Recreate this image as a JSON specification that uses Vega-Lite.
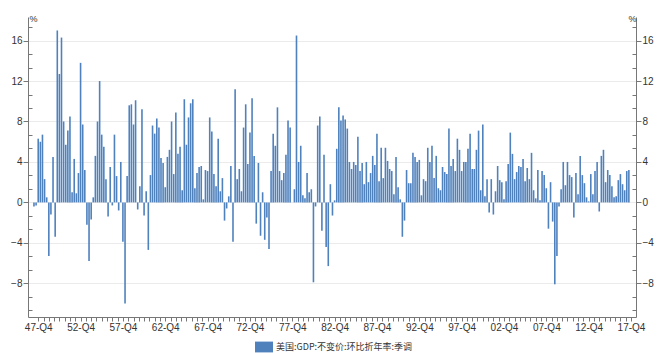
{
"$schema": "https://vega.github.io/schema/vega-lite/v6.json",
"width": 608, "height": 300,
"autosize": "none",
"padding": {"left": 28, "top": 17, "right": 23, "bottom": 36},
"background": "white",
"config": {"view": {"stroke": null}},
"data": {"values": [
{"d":"1947-04-01","v":-0.4},{"d":"1947-07-01","v":-0.3},{"d":"1947-10-01","v":6.3},
{"d":"1948-01-01","v":6.0},{"d":"1948-04-01","v":6.7},{"d":"1948-07-01","v":2.3},{"d":"1948-10-01","v":0.5},
{"d":"1949-01-01","v":-5.3},{"d":"1949-04-01","v":-1.2},{"d":"1949-07-01","v":4.5},{"d":"1949-10-01","v":-3.4},
{"d":"1950-01-01","v":17.0},{"d":"1950-04-01","v":12.7},{"d":"1950-07-01","v":16.3},{"d":"1950-10-01","v":8.0},
{"d":"1951-01-01","v":5.7},{"d":"1951-04-01","v":7.1},{"d":"1951-07-01","v":8.5},{"d":"1951-10-01","v":1.0},
{"d":"1952-01-01","v":4.3},{"d":"1952-04-01","v":0.9},{"d":"1952-07-01","v":2.9},{"d":"1952-10-01","v":13.8},
{"d":"1953-01-01","v":7.7},{"d":"1953-04-01","v":3.2},{"d":"1953-07-01","v":-2.2},{"d":"1953-10-01","v":-5.8},
{"d":"1954-01-01","v":-1.7},{"d":"1954-04-01","v":0.5},{"d":"1954-07-01","v":4.6},{"d":"1954-10-01","v":8.0},
{"d":"1955-01-01","v":12.0},{"d":"1955-04-01","v":6.7},{"d":"1955-07-01","v":5.5},{"d":"1955-10-01","v":2.3},
{"d":"1956-01-01","v":-1.4},{"d":"1956-04-01","v":3.5},{"d":"1956-07-01","v":-0.3},{"d":"1956-10-01","v":6.7},
{"d":"1957-01-01","v":2.6},{"d":"1957-04-01","v":-0.8},{"d":"1957-07-01","v":4.0},{"d":"1957-10-01","v":-3.9},
{"d":"1958-01-01","v":-10.0},{"d":"1958-04-01","v":2.6},{"d":"1958-07-01","v":9.6},{"d":"1958-10-01","v":9.7},
{"d":"1959-01-01","v":7.7},{"d":"1959-04-01","v":10.1},{"d":"1959-07-01","v":-0.7},{"d":"1959-10-01","v":1.6},
{"d":"1960-01-01","v":9.2},{"d":"1960-04-01","v":-1.3},{"d":"1960-07-01","v":1.1},{"d":"1960-10-01","v":-4.7},
{"d":"1961-01-01","v":2.7},{"d":"1961-04-01","v":7.6},{"d":"1961-07-01","v":6.8},{"d":"1961-10-01","v":8.3},
{"d":"1962-01-01","v":7.4},{"d":"1962-04-01","v":4.4},{"d":"1962-07-01","v":3.9},{"d":"1962-10-01","v":1.5},
{"d":"1963-01-01","v":4.5},{"d":"1963-04-01","v":5.2},{"d":"1963-07-01","v":8.0},{"d":"1963-10-01","v":2.8},
{"d":"1964-01-01","v":8.9},{"d":"1964-04-01","v":4.8},{"d":"1964-07-01","v":5.5},{"d":"1964-10-01","v":1.2},
{"d":"1965-01-01","v":10.2},{"d":"1965-04-01","v":5.7},{"d":"1965-07-01","v":8.4},{"d":"1965-10-01","v":9.8},
{"d":"1966-01-01","v":10.2},{"d":"1966-04-01","v":1.4},{"d":"1966-07-01","v":2.9},{"d":"1966-10-01","v":3.5},
{"d":"1967-01-01","v":3.6},{"d":"1967-04-01","v":0.3},{"d":"1967-07-01","v":3.2},{"d":"1967-10-01","v":3.1},
{"d":"1968-01-01","v":8.4},{"d":"1968-04-01","v":7.0},{"d":"1968-07-01","v":2.8},{"d":"1968-10-01","v":1.6},
{"d":"1969-01-01","v":6.3},{"d":"1969-04-01","v":1.1},{"d":"1969-07-01","v":2.4},{"d":"1969-10-01","v":-1.8},
{"d":"1970-01-01","v":-0.6},{"d":"1970-04-01","v":0.6},{"d":"1970-07-01","v":3.6},{"d":"1970-10-01","v":-3.9},
{"d":"1971-01-01","v":11.2},{"d":"1971-04-01","v":2.3},{"d":"1971-07-01","v":3.3},{"d":"1971-10-01","v":1.1},
{"d":"1972-01-01","v":7.4},{"d":"1972-04-01","v":9.7},{"d":"1972-07-01","v":3.8},{"d":"1972-10-01","v":6.9},
{"d":"1973-01-01","v":10.3},{"d":"1973-04-01","v":4.6},{"d":"1973-07-01","v":-2.1},{"d":"1973-10-01","v":3.9},
{"d":"1974-01-01","v":-3.3},{"d":"1974-04-01","v":1.0},{"d":"1974-07-01","v":-3.7},{"d":"1974-10-01","v":-1.5},
{"d":"1975-01-01","v":-4.6},{"d":"1975-04-01","v":3.1},{"d":"1975-07-01","v":6.8},{"d":"1975-10-01","v":5.6},
{"d":"1976-01-01","v":9.4},{"d":"1976-04-01","v":3.1},{"d":"1976-07-01","v":2.2},{"d":"1976-10-01","v":2.9},
{"d":"1977-01-01","v":4.7},{"d":"1977-04-01","v":8.1},{"d":"1977-07-01","v":7.4},{"d":"1977-10-01","v":0.0},
{"d":"1978-01-01","v":1.3},{"d":"1978-04-01","v":16.5},{"d":"1978-07-01","v":4.0},{"d":"1978-10-01","v":5.6},
{"d":"1979-01-01","v":0.7},{"d":"1979-04-01","v":0.4},{"d":"1979-07-01","v":2.9},{"d":"1979-10-01","v":1.0},
{"d":"1980-01-01","v":1.3},{"d":"1980-04-01","v":-7.9},{"d":"1980-07-01","v":-0.4},{"d":"1980-10-01","v":7.6},
{"d":"1981-01-01","v":8.5},{"d":"1981-04-01","v":-2.8},{"d":"1981-07-01","v":4.7},{"d":"1981-10-01","v":-4.4},
{"d":"1982-01-01","v":-6.3},{"d":"1982-04-01","v":1.8},{"d":"1982-07-01","v":-1.3},{"d":"1982-10-01","v":0.2},
{"d":"1983-01-01","v":5.3},{"d":"1983-04-01","v":9.4},{"d":"1983-07-01","v":8.1},{"d":"1983-10-01","v":8.6},
{"d":"1984-01-01","v":8.2},{"d":"1984-04-01","v":7.3},{"d":"1984-07-01","v":4.0},{"d":"1984-10-01","v":3.3},
{"d":"1985-01-01","v":4.0},{"d":"1985-04-01","v":3.7},{"d":"1985-07-01","v":6.5},{"d":"1985-10-01","v":3.1},
{"d":"1986-01-01","v":3.9},{"d":"1986-04-01","v":1.8},{"d":"1986-07-01","v":4.0},{"d":"1986-10-01","v":2.0},
{"d":"1987-01-01","v":2.9},{"d":"1987-04-01","v":4.6},{"d":"1987-07-01","v":3.7},{"d":"1987-10-01","v":6.8},
{"d":"1988-01-01","v":2.1},{"d":"1988-04-01","v":5.4},{"d":"1988-07-01","v":2.4},{"d":"1988-10-01","v":5.4},
{"d":"1989-01-01","v":4.1},{"d":"1989-04-01","v":3.3},{"d":"1989-07-01","v":3.1},{"d":"1989-10-01","v":0.8},
{"d":"1990-01-01","v":4.5},{"d":"1990-04-01","v":1.5},{"d":"1990-07-01","v":0.3},{"d":"1990-10-01","v":-3.4},
{"d":"1991-01-01","v":-1.8},{"d":"1991-04-01","v":3.2},{"d":"1991-07-01","v":1.9},{"d":"1991-10-01","v":1.9},
{"d":"1992-01-01","v":4.9},{"d":"1992-04-01","v":4.5},{"d":"1992-07-01","v":4.0},{"d":"1992-10-01","v":4.2},
{"d":"1993-01-01","v":0.7},{"d":"1993-04-01","v":2.3},{"d":"1993-07-01","v":2.1},{"d":"1993-10-01","v":5.4},
{"d":"1994-01-01","v":4.0},{"d":"1994-04-01","v":5.6},{"d":"1994-07-01","v":2.4},{"d":"1994-10-01","v":4.6},
{"d":"1995-01-01","v":1.4},{"d":"1995-04-01","v":1.2},{"d":"1995-07-01","v":3.5},{"d":"1995-10-01","v":3.0},
{"d":"1996-01-01","v":2.8},{"d":"1996-04-01","v":7.3},{"d":"1996-07-01","v":3.6},{"d":"1996-10-01","v":4.3},
{"d":"1997-01-01","v":3.1},{"d":"1997-04-01","v":6.3},{"d":"1997-07-01","v":5.2},{"d":"1997-10-01","v":3.1},
{"d":"1998-01-01","v":4.0},{"d":"1998-04-01","v":4.0},{"d":"1998-07-01","v":5.3},{"d":"1998-10-01","v":6.8},
{"d":"1999-01-01","v":3.3},{"d":"1999-04-01","v":3.3},{"d":"1999-07-01","v":5.2},{"d":"1999-10-01","v":7.1},
{"d":"2000-01-01","v":1.2},{"d":"2000-04-01","v":7.7},{"d":"2000-07-01","v":0.6},{"d":"2000-10-01","v":2.3},
{"d":"2001-01-01","v":-1.0},{"d":"2001-04-01","v":2.3},{"d":"2001-07-01","v":-1.2},{"d":"2001-10-01","v":1.1},
{"d":"2002-01-01","v":3.6},{"d":"2002-04-01","v":2.2},{"d":"2002-07-01","v":2.0},{"d":"2002-10-01","v":0.3},
{"d":"2003-01-01","v":2.1},{"d":"2003-04-01","v":3.8},{"d":"2003-07-01","v":6.9},{"d":"2003-10-01","v":4.8},
{"d":"2004-01-01","v":2.3},{"d":"2004-04-01","v":3.0},{"d":"2004-07-01","v":3.6},{"d":"2004-10-01","v":3.5},
{"d":"2005-01-01","v":4.3},{"d":"2005-04-01","v":2.1},{"d":"2005-07-01","v":3.4},{"d":"2005-10-01","v":2.3},
{"d":"2006-01-01","v":4.9},{"d":"2006-04-01","v":1.2},{"d":"2006-07-01","v":0.4},{"d":"2006-10-01","v":3.2},
{"d":"2007-01-01","v":0.2},{"d":"2007-04-01","v":3.1},{"d":"2007-07-01","v":2.7},{"d":"2007-10-01","v":1.4},
{"d":"2008-01-01","v":-2.6},{"d":"2008-04-01","v":2.0},{"d":"2008-07-01","v":-1.9},{"d":"2008-10-01","v":-8.1},
{"d":"2009-01-01","v":-5.3},{"d":"2009-04-01","v":-0.4},{"d":"2009-07-01","v":1.3},{"d":"2009-10-01","v":4.0},
{"d":"2010-01-01","v":1.7},{"d":"2010-04-01","v":4.0},{"d":"2010-07-01","v":2.7},{"d":"2010-10-01","v":2.5},
{"d":"2011-01-01","v":-1.5},{"d":"2011-04-01","v":2.9},{"d":"2011-07-01","v":0.8},{"d":"2011-10-01","v":4.6},
{"d":"2012-01-01","v":2.7},{"d":"2012-04-01","v":1.9},{"d":"2012-07-01","v":0.5},{"d":"2012-10-01","v":0.1},
{"d":"2013-01-01","v":2.8},{"d":"2013-04-01","v":0.8},{"d":"2013-07-01","v":3.1},{"d":"2013-10-01","v":4.0},
{"d":"2014-01-01","v":-0.9},{"d":"2014-04-01","v":4.6},{"d":"2014-07-01","v":5.2},{"d":"2014-10-01","v":2.0},
{"d":"2015-01-01","v":3.2},{"d":"2015-04-01","v":2.7},{"d":"2015-07-01","v":1.6},{"d":"2015-10-01","v":0.5},
{"d":"2016-01-01","v":0.6},{"d":"2016-04-01","v":2.2},{"d":"2016-07-01","v":2.8},{"d":"2016-10-01","v":1.8},
{"d":"2017-01-01","v":1.2},{"d":"2017-04-01","v":3.1},{"d":"2017-07-01","v":3.2}
]},
"layer": [
{
"mark": {"type": "bar", "size": 1.6},
"encoding": {
"x": {"field": "d", "type": "temporal",
 "scale": {"type": "utc", "domain": [{"year":1947,"month":2,"date":18,"utc":true},{"year":2017,"month":10,"date":1,"utc":true}]},
 "axis": {"title": null, "grid": false, "format": "%y-Q%q",
  "labelExpr": "utcmonth(datum.value) == 9 && utcdate(datum.value) == 1 ? datum.label : ''",
  "labelOverlap": false, "labelFlush": false, "labelBound": false,
  "labelFont": "Liberation Sans", "labelFontSize": 10, "labelColor": "#333333", "labelPadding": 1,
  "tickSize": 4, "tickColor": "#777777", "domainColor": "#777777",
  "values": [
{"year":1947,"month":10,"date":1,"utc":true},{"year":1948,"month":5,"date":16,"utc":true},{"year":1949,"month":1,"date":1,"utc":true},{"year":1949,"month":8,"date":16,"utc":true},{"year":1950,"month":4,"date":1,"utc":true},{"year":1950,"month":11,"date":16,"utc":true},{"year":1951,"month":7,"date":1,"utc":true},{"year":1952,"month":2,"date":16,"utc":true},
{"year":1952,"month":10,"date":1,"utc":true},{"year":1953,"month":5,"date":16,"utc":true},{"year":1954,"month":1,"date":1,"utc":true},{"year":1954,"month":8,"date":16,"utc":true},{"year":1955,"month":4,"date":1,"utc":true},{"year":1955,"month":11,"date":16,"utc":true},{"year":1956,"month":7,"date":1,"utc":true},{"year":1957,"month":2,"date":16,"utc":true},
{"year":1957,"month":10,"date":1,"utc":true},{"year":1958,"month":5,"date":16,"utc":true},{"year":1959,"month":1,"date":1,"utc":true},{"year":1959,"month":8,"date":16,"utc":true},{"year":1960,"month":4,"date":1,"utc":true},{"year":1960,"month":11,"date":16,"utc":true},{"year":1961,"month":7,"date":1,"utc":true},{"year":1962,"month":2,"date":16,"utc":true},
{"year":1962,"month":10,"date":1,"utc":true},{"year":1963,"month":5,"date":16,"utc":true},{"year":1964,"month":1,"date":1,"utc":true},{"year":1964,"month":8,"date":16,"utc":true},{"year":1965,"month":4,"date":1,"utc":true},{"year":1965,"month":11,"date":16,"utc":true},{"year":1966,"month":7,"date":1,"utc":true},{"year":1967,"month":2,"date":16,"utc":true},
{"year":1967,"month":10,"date":1,"utc":true},{"year":1968,"month":5,"date":16,"utc":true},{"year":1969,"month":1,"date":1,"utc":true},{"year":1969,"month":8,"date":16,"utc":true},{"year":1970,"month":4,"date":1,"utc":true},{"year":1970,"month":11,"date":16,"utc":true},{"year":1971,"month":7,"date":1,"utc":true},{"year":1972,"month":2,"date":16,"utc":true},
{"year":1972,"month":10,"date":1,"utc":true},{"year":1973,"month":5,"date":16,"utc":true},{"year":1974,"month":1,"date":1,"utc":true},{"year":1974,"month":8,"date":16,"utc":true},{"year":1975,"month":4,"date":1,"utc":true},{"year":1975,"month":11,"date":16,"utc":true},{"year":1976,"month":7,"date":1,"utc":true},{"year":1977,"month":2,"date":16,"utc":true},
{"year":1977,"month":10,"date":1,"utc":true},{"year":1978,"month":5,"date":16,"utc":true},{"year":1979,"month":1,"date":1,"utc":true},{"year":1979,"month":8,"date":16,"utc":true},{"year":1980,"month":4,"date":1,"utc":true},{"year":1980,"month":11,"date":16,"utc":true},{"year":1981,"month":7,"date":1,"utc":true},{"year":1982,"month":2,"date":16,"utc":true},
{"year":1982,"month":10,"date":1,"utc":true},{"year":1983,"month":5,"date":16,"utc":true},{"year":1984,"month":1,"date":1,"utc":true},{"year":1984,"month":8,"date":16,"utc":true},{"year":1985,"month":4,"date":1,"utc":true},{"year":1985,"month":11,"date":16,"utc":true},{"year":1986,"month":7,"date":1,"utc":true},{"year":1987,"month":2,"date":16,"utc":true},
{"year":1987,"month":10,"date":1,"utc":true},{"year":1988,"month":5,"date":16,"utc":true},{"year":1989,"month":1,"date":1,"utc":true},{"year":1989,"month":8,"date":16,"utc":true},{"year":1990,"month":4,"date":1,"utc":true},{"year":1990,"month":11,"date":16,"utc":true},{"year":1991,"month":7,"date":1,"utc":true},{"year":1992,"month":2,"date":16,"utc":true},
{"year":1992,"month":10,"date":1,"utc":true},{"year":1993,"month":5,"date":16,"utc":true},{"year":1994,"month":1,"date":1,"utc":true},{"year":1994,"month":8,"date":16,"utc":true},{"year":1995,"month":4,"date":1,"utc":true},{"year":1995,"month":11,"date":16,"utc":true},{"year":1996,"month":7,"date":1,"utc":true},{"year":1997,"month":2,"date":16,"utc":true},
{"year":1997,"month":10,"date":1,"utc":true},{"year":1998,"month":5,"date":16,"utc":true},{"year":1999,"month":1,"date":1,"utc":true},{"year":1999,"month":8,"date":16,"utc":true},{"year":2000,"month":4,"date":1,"utc":true},{"year":2000,"month":11,"date":16,"utc":true},{"year":2001,"month":7,"date":1,"utc":true},{"year":2002,"month":2,"date":16,"utc":true},
{"year":2002,"month":10,"date":1,"utc":true},{"year":2003,"month":5,"date":16,"utc":true},{"year":2004,"month":1,"date":1,"utc":true},{"year":2004,"month":8,"date":16,"utc":true},{"year":2005,"month":4,"date":1,"utc":true},{"year":2005,"month":11,"date":16,"utc":true},{"year":2006,"month":7,"date":1,"utc":true},{"year":2007,"month":2,"date":16,"utc":true},
{"year":2007,"month":10,"date":1,"utc":true},{"year":2008,"month":5,"date":16,"utc":true},{"year":2009,"month":1,"date":1,"utc":true},{"year":2009,"month":8,"date":16,"utc":true},{"year":2010,"month":4,"date":1,"utc":true},{"year":2010,"month":11,"date":16,"utc":true},{"year":2011,"month":7,"date":1,"utc":true},{"year":2012,"month":2,"date":16,"utc":true},
{"year":2012,"month":10,"date":1,"utc":true},{"year":2013,"month":5,"date":16,"utc":true},{"year":2014,"month":1,"date":1,"utc":true},{"year":2014,"month":8,"date":16,"utc":true},{"year":2015,"month":4,"date":1,"utc":true},{"year":2015,"month":11,"date":16,"utc":true},{"year":2016,"month":7,"date":1,"utc":true},{"year":2017,"month":2,"date":16,"utc":true},
{"year":2017,"month":10,"date":1,"utc":true}
  ]}},
"y": {"field": "v", "type": "quantitative",
 "scale": {"domain": [-11.3333, 18.3333], "nice": false},
 "axis": {"orient": "left", "title": "%", "titleAngle": 0, "titleX": 5, "titleY": 1, "titleAlign": "center", "titleBaseline": "middle", "titleFontSize": 9, "titleFontWeight": "normal", "titleColor": "#333333", "titleFont": "Liberation Sans",
  "values": [-10.6667,-9.3333,-8,-6.6667,-5.3333,-4,-2.6667,-1.3333,0,1.3333,2.6667,4,5.3333,6.6667,8,9.3333,10.6667,12,13.3333,14.6667,16,17.3333],
  "format": ".0f",
  "labelExpr": "abs(datum.value - round(datum.value/4)*4) < 0.01 ? datum.label : ''",
  "labelOverlap": false, "labelBound": false, "labelFlush": false,
  "labelFont": "Liberation Sans", "labelFontSize": 10, "labelColor": "#333333", "labelPadding": 1,
  "tickColor": "#777777", "domainColor": "#777777",
  "tickSize": {"condition": {"test": "abs(datum.value - round(datum.value/4)*4) < 0.01", "value": 5}, "value": -4},
  "grid": true, "gridColor": "#ebebeb",
  "gridOpacity": {"condition": {"test": "abs(datum.value - round(datum.value/4)*4) < 0.01", "value": 1}, "value": 0}
 }},
"color": {"datum": "美国:GDP:不变价:环比折年率:季调", "type": "nominal",
 "scale": {"range": ["#4f81bd"]},
 "legend": {"title": null, "orient": "none", "legendX": 227, "legendY": 321,
  "symbolType": "M-1,-0.6H1V0.6H-1Z", "symbolSize": 324, "symbolStrokeWidth": 0,
  "labelFont": "Noto Sans CJK SC", "labelFontSize": 9, "labelColor": "#333333", "labelOffset": 3}}
}
},
{
"mark": {"type": "rule", "opacity": 0},
"encoding": {
"y": {"datum": 0, "type": "quantitative",
 "axis": {"orient": "right", "title": "%", "titleAngle": 0, "titleX": -4, "titleY": 1, "titleAlign": "center", "titleBaseline": "middle", "titleFontSize": 9, "titleFontWeight": "normal", "titleColor": "#333333", "titleFont": "Liberation Sans",
  "values": [-10.6667,-9.3333,-8,-6.6667,-5.3333,-4,-2.6667,-1.3333,0,1.3333,2.6667,4,5.3333,6.6667,8,9.3333,10.6667,12,13.3333,14.6667,16,17.3333],
  "format": ".0f",
  "labelExpr": "abs(datum.value - round(datum.value/4)*4) < 0.01 ? datum.label : ''",
  "labelOverlap": false, "labelBound": false, "labelFlush": false,
  "labelFont": "Liberation Sans", "labelFontSize": 10, "labelColor": "#333333", "labelPadding": 1,
  "tickColor": "#777777", "domainColor": "#777777",
  "tickSize": {"condition": {"test": "abs(datum.value - round(datum.value/4)*4) < 0.01", "value": 5}, "value": -4},
  "grid": false}}
}
}
],
"resolve": {"axis": {"y": "independent"}}
}
